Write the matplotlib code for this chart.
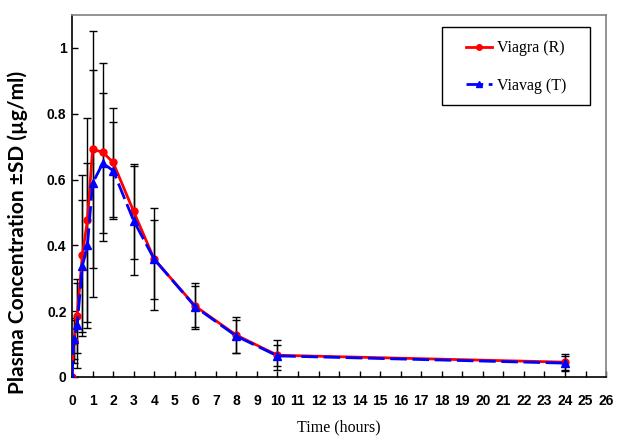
import matplotlib
matplotlib.use('Agg')
import matplotlib.pyplot as plt
from matplotlib.patches import Rectangle

# sampling times (hours)
time_h = [0, 0.083, 0.25, 0.5, 0.75, 1, 1.5, 2, 3, 4, 6, 8, 10, 24]

# Viagra (R) - reference
viagra_mean = [0, 0.110, 0.185, 0.370, 0.477, 0.692, 0.683, 0.652, 0.503, 0.358, 0.215, 0.127, 0.066, 0.045]
viagra_sd = [0, 0.068, 0.112, 0.245, 0.31, 0.36, 0.27, 0.165, 0.145, 0.155, 0.07, 0.055, 0.046, 0.026]

# Viavag (T) - test
viavag_mean = [0, 0.114, 0.157, 0.337, 0.400, 0.589, 0.650, 0.627, 0.475, 0.358, 0.213, 0.124, 0.064, 0.042]
viavag_sd = [0, 0.06, 0.13, 0.20, 0.25, 0.345, 0.213, 0.147, 0.165, 0.12, 0.062, 0.05, 0.032, 0.021]

x_ticks = list(range(0, 27))
y_ticks = [0, 0.2, 0.4, 0.6, 0.8, 1.0]
y_tick_labels = ['0', '0.2', '0.4', '0.6', '0.8', '1']

tick_font = ['Liberation Sans Narrow', 'Liberation Sans', 'DejaVu Sans']
serif_font = ['Liberation Serif', 'DejaVu Serif']

fig = plt.figure(figsize=(6.32, 4.44), dpi=100)
ax = fig.add_axes([0.114, 0.151, 0.845, 0.815])

ax.errorbar(time_h, viagra_mean, yerr=viagra_sd, fmt='none', ecolor='black',
            elinewidth=1, capsize=3, capthick=1, zorder=1)
ax.errorbar(time_h, viavag_mean, yerr=viavag_sd, fmt='none', ecolor='black',
            elinewidth=1, capsize=3, capthick=1, zorder=1)

ax.plot(time_h, viagra_mean, color='#ff0000', lw=2, marker='o', ms=5,
        label='Viagra (R)', zorder=3)
ax.plot(time_h, viavag_mean, color='#0000ff', lw=2, ls=(0, (6, 2)), marker='^', ms=6,
        label='Viavag (T)', zorder=4)

ax.set_xlim(0, 26)
ax.set_ylim(0, 1.1)
ax.set_xticks(x_ticks)
ax.set_xticklabels([str(t) for t in x_ticks], fontfamily=tick_font, fontweight='bold', fontsize=10)
ax.set_yticks(y_ticks)
ax.set_yticklabels(y_tick_labels, fontfamily=tick_font, fontweight='bold', fontsize=10)
ax.tick_params(direction='in', length=4, width=1)
ax.tick_params(axis='x', pad=12)
ax.tick_params(axis='y', pad=4)

for side in ['left', 'bottom']:
    ax.spines[side].set_color('black')
    ax.spines[side].set_linewidth(1.2)
for side in ['top', 'right']:
    ax.spines[side].set_color('#808080')
    ax.spines[side].set_linewidth(1.2)

ax.set_xlabel('Time (hours)', fontfamily=serif_font, fontsize=11.5)
ax.xaxis.set_label_coords(0.5, -0.118)
ax.set_ylabel('Plasma Concentration \u00b1SD (\u00b5g/ml)', fontfamily=['Lato', 'DejaVu Sans'],
              fontweight='bold', fontsize=15)
ax.yaxis.set_label_coords(-0.083, 0.40)

# legend box drawn separately so the padding matches
ax.add_patch(Rectangle((0.693, 0.751), 0.277, 0.216, transform=ax.transAxes,
                       facecolor='white', edgecolor='black', lw=1, zorder=5))
leg = ax.legend(loc='upper left', bbox_to_anchor=(0.738, 0.93), frameon=False,
                prop={'family': serif_font, 'size': 11.5}, borderpad=0, borderaxespad=0,
                handlelength=1.6, handletextpad=0.35, labelspacing=1.35, markerscale=0.8)
leg.set_zorder(6)

fig.savefig('out.png', dpi=100)
